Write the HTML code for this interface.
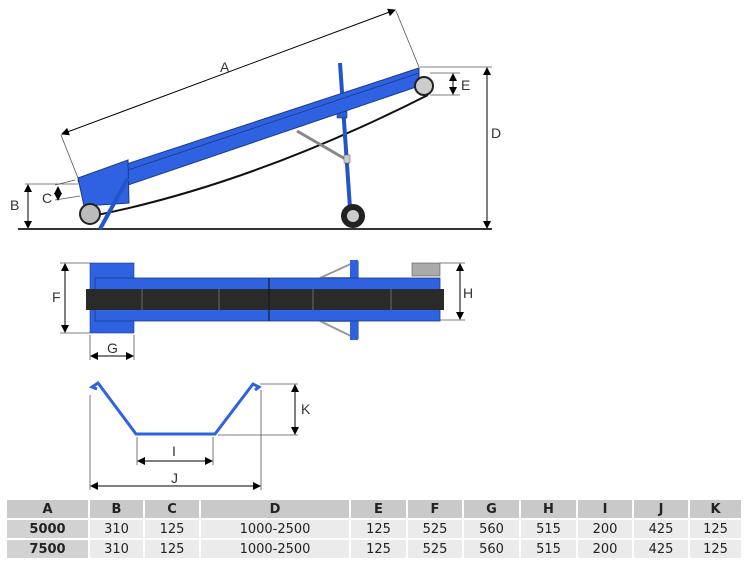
<!DOCTYPE html>
<html><head><style>
body{margin:0;background:#fff;width:747px;height:566px;overflow:hidden;font-family:"DejaVu Sans","Liberation Sans",sans-serif}
table{position:absolute;left:5px;top:498px;border-collapse:separate;border-spacing:2px;font-size:13px;}
td{height:18px;text-align:center;padding:0;background:#ebebeb;color:#222}
tr.h td{background:#c9c9c9;font-weight:bold}
td.f{background:#d2d2d2;font-weight:bold}
</style></head><body>
<svg width="747" height="500" style="position:absolute;left:0;top:0" font-family="Liberation Sans,sans-serif" font-size="14" fill="#333">
<defs><marker id="a" markerWidth="8" markerHeight="8" refX="7" refY="4" orient="auto-start-reverse" markerUnits="userSpaceOnUse"><path d="M0,0 L8,4 L0,8z" fill="#000"/></marker></defs>
<g stroke="#555" stroke-width="0.8" fill="none">
<line x1="18" y1="229" x2="492" y2="229" stroke="#333" stroke-width="2"/>
<line x1="78" y1="178" x2="61" y2="135"/><line x1="419" y1="67" x2="396" y2="11"/>
<line x1="420" y1="67" x2="492" y2="67"/>
<line x1="25" y1="184" x2="78" y2="184"/>
<line x1="430" y1="73" x2="460" y2="73"/><line x1="430" y1="95" x2="460" y2="95"/>
<line x1="55" y1="185" x2="75" y2="180"/><line x1="55" y1="200" x2="80" y2="196"/>
</g>
<g stroke="#000" stroke-width="1" marker-start="url(#a)" marker-end="url(#a)">
<line x1="62" y1="134" x2="395" y2="10"/>
<line x1="487" y1="68" x2="487" y2="228"/>
<line x1="453" y1="74" x2="453" y2="94"/>
<line x1="28" y1="185" x2="28" y2="228"/>
<line x1="58" y1="187" x2="58" y2="200"/>
</g>
<text x="220" y="72">A</text><text x="491" y="138">D</text><text x="461" y="90">E</text><text x="10" y="210">B</text><text x="42" y="203">C</text>
<path d="M92,216 Q250,185 428,95" stroke="#111" stroke-width="2" fill="none"/>
<line x1="297" y1="131" x2="347" y2="160" stroke="#888" stroke-width="3"/>
<line x1="340" y1="63" x2="350" y2="208" stroke="#2255cc" stroke-width="4"/>
<rect x="337" y="100" width="10" height="18" fill="#2a5fd8" stroke="#123" stroke-width="0.5"/>
<rect x="344" y="155" width="6" height="8" fill="#ccc" stroke="#555" stroke-width="0.5"/>
<polygon points="78,180 419,68 419,86 84,200" fill="#2f62e0" stroke="#1a3a8a" stroke-width="1"/>
<line x1="80" y1="186" x2="419" y2="73" stroke="#1a3a8a" stroke-width="0.8"/>
<polygon points="78,178 128,160 129,203 84,206" fill="#2f62e0" stroke="#1a3a8a"/>
<line x1="128" y1="178" x2="100" y2="229" stroke="#2255cc" stroke-width="4"/>
<circle cx="90" cy="214" r="10" fill="#bbb" stroke="#222" stroke-width="2"/>
<circle cx="424" cy="86" r="9" fill="#ccc" stroke="#222" stroke-width="2"/>
<circle cx="353" cy="216" r="12" fill="#222"/><circle cx="353" cy="216" r="6" fill="#ccc"/>
<g stroke="#555" stroke-width="0.8" fill="none">
<line x1="60" y1="263" x2="90" y2="263"/><line x1="60" y1="333" x2="90" y2="333"/>
<line x1="90" y1="335" x2="90" y2="360"/><line x1="134" y1="335" x2="134" y2="360"/>
<line x1="440" y1="263" x2="465" y2="263"/><line x1="440" y1="320" x2="465" y2="320"/>
</g>
<g stroke="#000" stroke-width="1" marker-start="url(#a)" marker-end="url(#a)">
<line x1="65" y1="264" x2="65" y2="332"/><line x1="91" y1="356" x2="133" y2="356"/><line x1="460" y1="264" x2="460" y2="319"/>
</g>
<text x="52" y="302">F</text><text x="107" y="353">G</text><text x="463" y="298">H</text>
<polygon points="320,278 355,262 358,262 358,278" fill="none" stroke="#999" stroke-width="2"/>
<polygon points="320,321 355,338 358,338 358,321" fill="none" stroke="#999" stroke-width="2"/>
<rect x="350" y="260" width="8" height="80" fill="#2f62e0"/>
<rect x="90" y="263" width="44" height="70" fill="#2f62e0" stroke="#1a3a8a" stroke-width="0.6"/>
<rect x="95" y="278" width="345" height="43" fill="#2f62e0" stroke="#1a3a8a" stroke-width="0.8"/>
<rect x="86" y="289" width="358" height="21" fill="#2a2a2a"/>
<g stroke="#555" stroke-width="1.5"><line x1="142" y1="289" x2="142" y2="310"/><line x1="219" y1="289" x2="219" y2="310"/><line x1="313" y1="289" x2="313" y2="310"/><line x1="391" y1="289" x2="391" y2="310"/></g>
<line x1="269" y1="278" x2="269" y2="321" stroke="#111" stroke-width="1"/>
<rect x="412" y="263" width="28" height="13" fill="#aaa" stroke="#555" stroke-width="0.6"/>
<polyline points="97,389 92,387 98,383 136,434 215,434 253,384 259,387 255,390" fill="none" stroke="#2f62e0" stroke-width="3"/>
<g stroke="#555" stroke-width="0.8" fill="none">
<line x1="260" y1="384" x2="298" y2="384"/><line x1="218" y1="435" x2="298" y2="435"/>
<line x1="137" y1="437" x2="137" y2="465"/><line x1="213" y1="437" x2="213" y2="465"/>
<line x1="90" y1="395" x2="90" y2="490"/><line x1="261" y1="390" x2="261" y2="490"/>
</g>
<g stroke="#000" stroke-width="1" marker-start="url(#a)" marker-end="url(#a)">
<line x1="295" y1="385" x2="295" y2="434"/><line x1="138" y1="461" x2="212" y2="461"/><line x1="91" y1="486" x2="260" y2="486"/>
</g>
<text x="172" y="456">I</text><text x="171" y="483">J</text><text x="301" y="414">K</text>
</svg>
<table>
<tr class="h"><td style="width:81px">A</td><td style="width:53px">B</td><td style="width:54px">C</td><td style="width:148px">D</td><td style="width:55px">E</td><td style="width:54px">F</td><td style="width:55px">G</td><td style="width:55px">H</td><td style="width:54px">I</td><td style="width:54px">J</td><td style="width:51px">K</td></tr>
<tr><td class="f">5000</td><td>310</td><td>125</td><td>1000-2500</td><td>125</td><td>525</td><td>560</td><td>515</td><td>200</td><td>425</td><td>125</td></tr>
<tr><td class="f">7500</td><td>310</td><td>125</td><td>1000-2500</td><td>125</td><td>525</td><td>560</td><td>515</td><td>200</td><td>425</td><td>125</td></tr>
</table>
</body></html>
